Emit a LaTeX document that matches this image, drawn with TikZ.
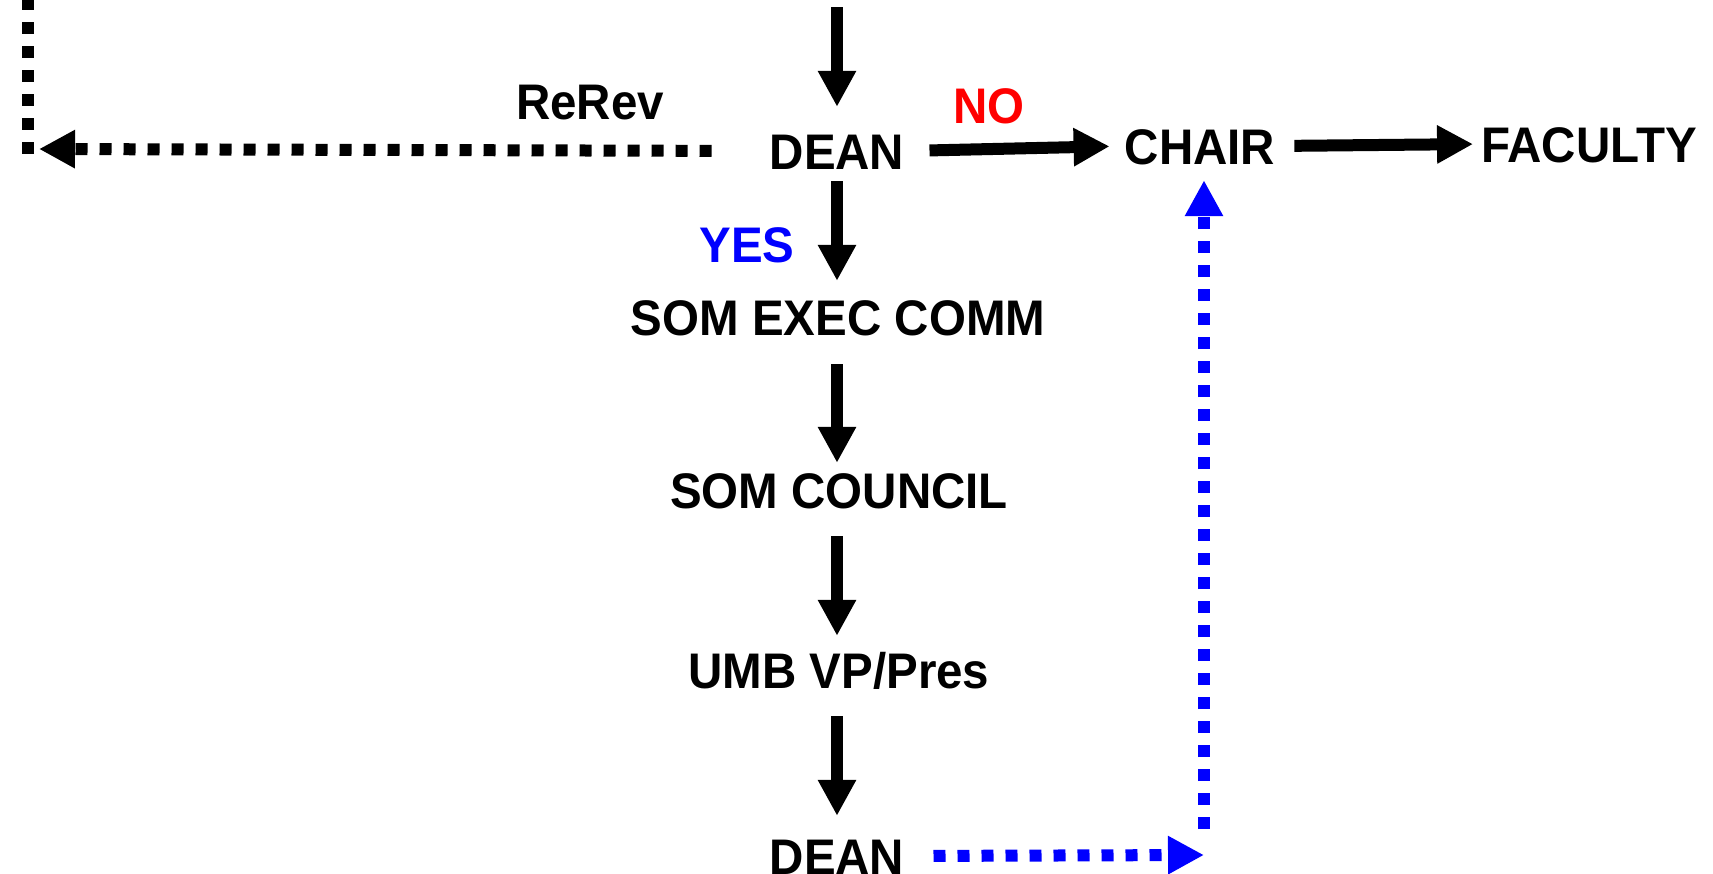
\documentclass[tikz,border=0pt]{standalone}
\usepackage{fontspec}
\setmainfont{Liberation Sans}[FakeStretch=0.95]
\usetikzlibrary{arrows.meta}

\tikzset{
  lbl/.style={font=\fontsize{50}{60}\selectfont\bfseries, inner sep=0pt, text height=36pt, text depth=0pt},
  flow/.style={line width=12pt, -{Triangle[length=36pt,width=36pt]}},
  dotflow/.style={flow, dash pattern=on 12pt off 12pt},
  down/.style 2 args={flow, shorten <=#1, shorten >=#2}
}

\begin{document}
\begin{tikzpicture}[x=1pt, y=-1pt]
    \useasboundingbox (0,0) rectangle (1713,873);
    % offices
    \node[lbl] (dean1) at (837,151) {DEAN};
    \node[lbl] (chair) at (1200,146) {CHAIR};
    \node[lbl] (faculty) at (1589,144) {FACULTY};
    \node[lbl] (exec) at (838,317) {SOM EXEC COMM};
    \node[lbl] (council) at (839,490) {SOM COUNCIL};
    \node[lbl] (vppres) at (839,670) {UMB VP/Pres};
    \node[lbl] (dean2) at (837,856) {DEAN};
    % decisions
    \node[lbl] (rerev) at (590,101) {ReRev};
    \node[lbl, red] (no) at (989,105) {NO};
    \node[lbl, blue] (yes) at (747,244) {YES};
    \coordinate (in) at (837,7);
    \coordinate (up) at (28,-2);
    \coordinate (corner) at (28,154);
    \coordinate (back) at (39,149);
    \coordinate (turn) at (1204,855);
    % main line
    \draw[flow, shorten >=26pt] (in) -- (dean1.north);
    \draw[down={12pt}{18pt}] (dean1.south) -- (dean1.south |- exec.north);
    \draw[down={29pt}{9pt}] (dean1.south |- exec.south) -- (dean1.south |- council.north);
    \draw[down={28pt}{16pt}] (dean1.south |- council.south) -- (dean1.south |- vppres.north);
    \draw[down={28pt}{22pt}] (dean1.south |- vppres.south) -- (dean2.north);
    \draw[flow, shorten <=25pt, shorten >=15pt] (dean1.east) -- (chair.west);
    \draw[flow, shorten <=19pt, shorten >=8pt] (chair.east) -- (faculty.west);
    % sent back / returned
    \draw[dotflow, shorten <=58pt] (dean1.west) -- (back);
    \draw[line width=12pt, dash pattern=on 12pt off 12pt] (up) -- (corner);
    \draw[dotflow, blue, shorten <=29pt] (dean2.east) -- (turn);
    \draw[dotflow, blue, shorten <=26pt, shorten >=16pt] (turn) -- (turn |- chair.south);
\end{tikzpicture}
\end{document}
